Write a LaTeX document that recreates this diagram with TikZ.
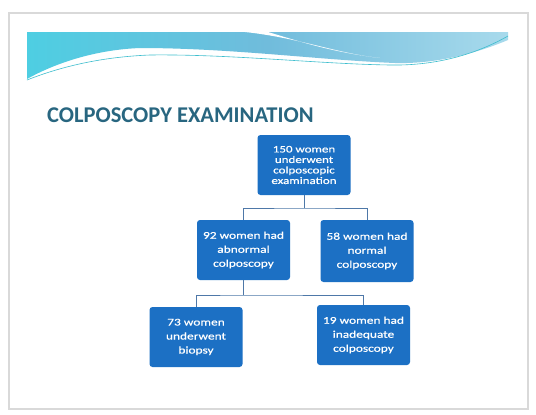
\documentclass[tikz,border=0pt]{standalone}
\usepackage{fontspec}
\setmainfont{Carlito}
\newfontfamily\boxfont[FakeStretch=1.3,FakeBold=0.6]{Carlito}
\definecolor{bannerL}{RGB}{78,206,226}
\definecolor{bannerM}{RGB}{112,188,220}
\definecolor{bannerR}{RGB}{168,218,236}
\definecolor{titleC}{RGB}{40,102,128}
\definecolor{boxC}{RGB}{28,112,196}
\definecolor{linkC}{RGB}{78,120,168}

\begin{document}
\begin{tikzpicture}[x=1pt,y=-1pt,
  box/.style={fill=boxC,rounded corners=3pt,minimum width=93pt,minimum height=60pt,
    text=white,align=center,inner sep=2pt},
  boxtxt/.style={font=\boxfont\fontsize{10.3}{14}\selectfont},
  toptxt/.style={font=\boxfont\fontsize{10}{10.5}\selectfont},
  link/.style={draw=linkC,line width=0.8pt}]
  \useasboundingbox (0,0) rectangle (536,415);
  % slide
  \draw[gray!30,line width=2pt] (9,13) rectangle (528,409);
  \fill[white] (10,14) rectangle (527,408);
  % banner
  \shade[left color=bannerL,right color=bannerR,middle color=bannerM]
    (27,32) -- (508,32) -- (508,40) .. controls (470,56) and (430,64) .. (395,63)
    .. controls (320,60) and (230,48) .. (140,48) .. controls (90,50) and (50,66) .. (27,79) -- cycle;
  \fill[white] (245,32) .. controls (300,38) and (335,53) .. (380,58)
    .. controls (330,52) and (295,40) .. (268,32) -- cycle;
  \fill[white] (27,82) .. controls (50,70) and (90,54) .. (140,52)
    .. controls (230,52) and (320,62) .. (395,66) -- (395,70) -- (27,84) -- cycle;
  \draw[bannerL!80!teal,line width=0.6pt] (27,80) .. controls (60,67) and (100,57) .. (150,55)
    .. controls (230,54) and (320,64) .. (390,65) .. controls (440,66) and (480,52) .. (508,36);
  % title
  \node[anchor=base west,inner sep=0pt,text=titleC,font=\bfseries\fontsize{22.5}{26}\selectfont]
    (title) at (47,122) {COLPOSCOPY EXAMINATION};
  % boxes
  \node[box,toptxt] (total) at (304,165) {150 women\\underwent\\colposcopic\\examination};
  \node[box,boxtxt] (abn) at (243.5,250) {92 women had\\abnormal\\colposcopy};
  \node[box,boxtxt,minimum height=62pt] (norm) at (367,251) {58 women had\\normal\\colposcopy};
  \node[box,boxtxt] (biop) at (196,337) {73 women\\underwent\\biopsy};
  \node[box,boxtxt] (inad) at (363.5,335) {19 women had\\inadequate\\colposcopy};
  % connectors
  \coordinate (j1) at (304,208);
  \coordinate (j2) at (243.5,295);
  \draw[link] (total.south) -- (j1);
  \draw[link] (abn.north) |- (j1) -| (norm.north);
  \draw[link] (abn.south) -- (j2);
  \draw[link] (biop.north) |- (j2) -| (inad.north);
\end{tikzpicture}
\end{document}
